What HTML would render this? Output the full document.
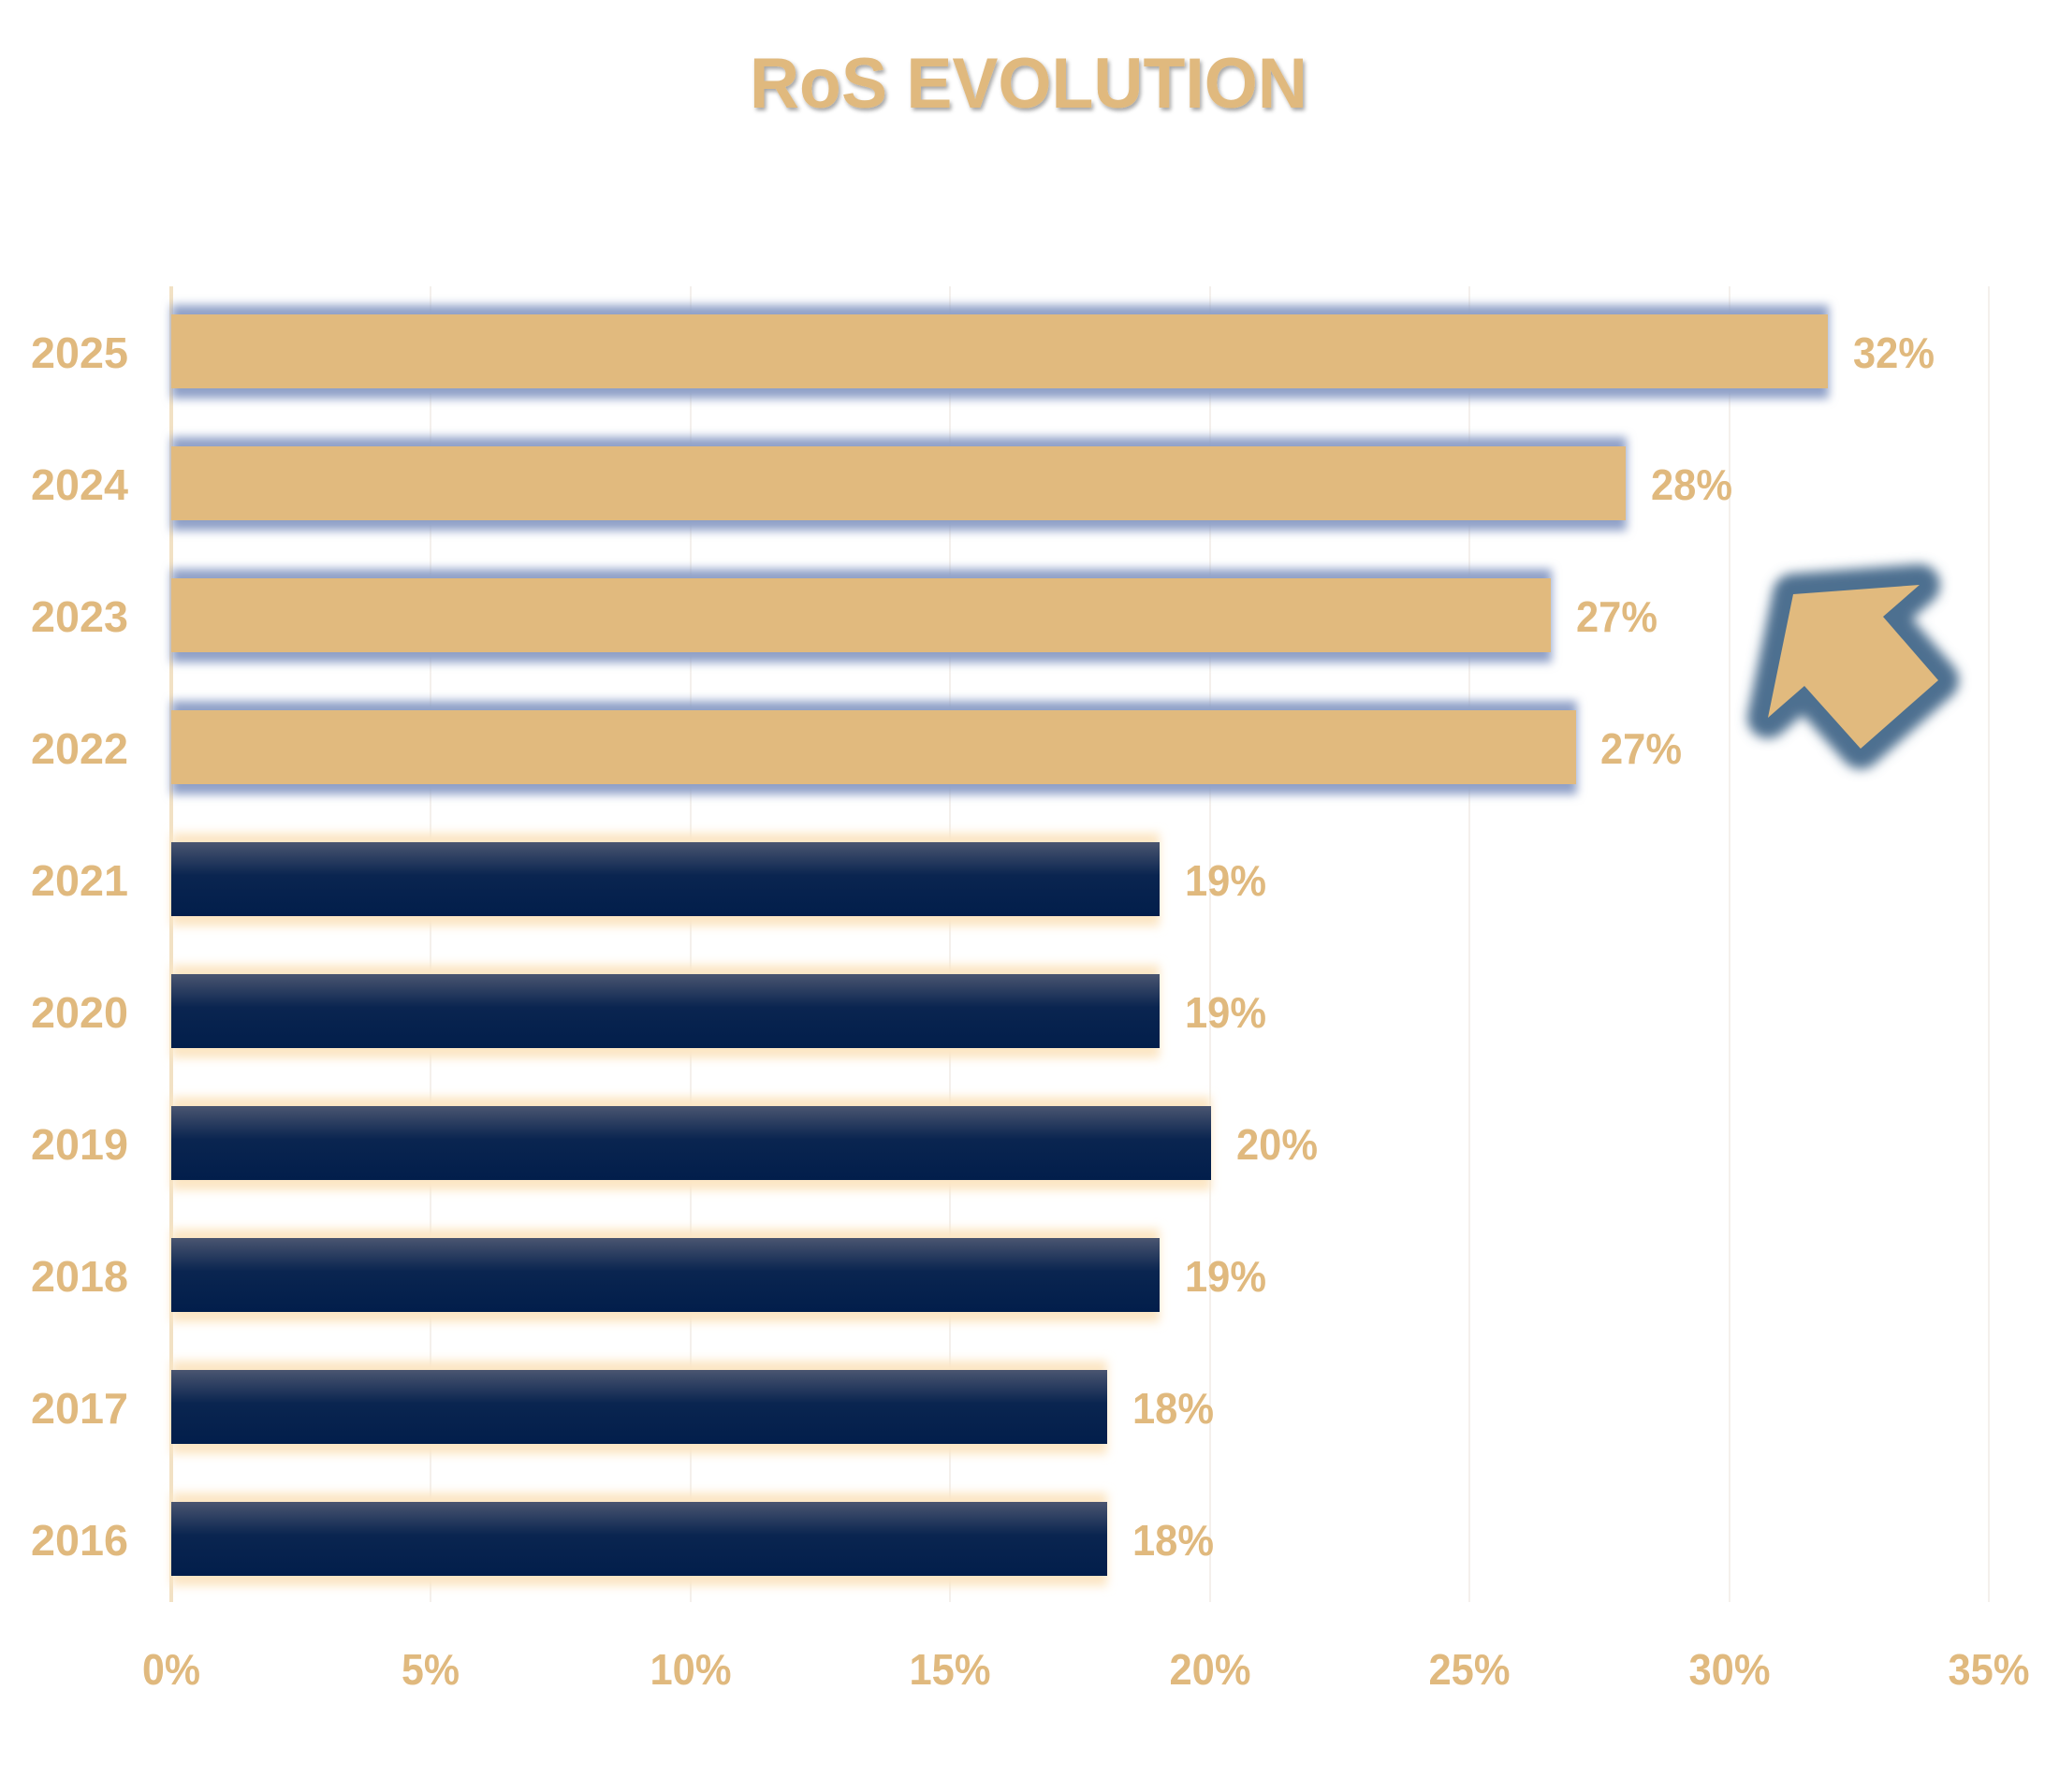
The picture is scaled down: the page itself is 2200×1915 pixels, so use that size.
<!DOCTYPE html>
<html><head><meta charset="utf-8"><style>
html,body{margin:0;padding:0;background:#fff;}
svg{display:block;}
text{font-family:"Liberation Sans Narrow","Liberation Sans",sans-serif;font-weight:bold;fill:#E0B97E;}
</style></head><body>
<svg width="2200" height="1915" viewBox="0 0 2200 1915" xmlns="http://www.w3.org/2000/svg">
<defs>
<filter id="gb" x="-5%" y="-40%" width="110%" height="180%"><feGaussianBlur stdDeviation="5"/></filter>
<filter id="ab" x="-30%" y="-30%" width="160%" height="160%"><feGaussianBlur stdDeviation="6"/></filter>
<filter id="ts" x="-5%" y="-20%" width="110%" height="150%"><feDropShadow dx="2" dy="3" stdDeviation="2" flood-color="#000" flood-opacity="0.35"/></filter>
<linearGradient id="nv" x1="0" y1="0" x2="0" y2="1">
<stop offset="0" stop-color="#4a5570"/><stop offset="0.45" stop-color="#0a2550"/><stop offset="1" stop-color="#021E4B"/>
</linearGradient>
</defs>
<text x="1099" y="115" font-size="76" text-anchor="middle" textLength="596" lengthAdjust="spacingAndGlyphs" filter="url(#ts)" style="font-family:'Liberation Sans',sans-serif">RoS EVOLUTION</text>
<g stroke="#f4f0ec" stroke-width="2">
<line x1="460" y1="306" x2="460" y2="1712"/><line x1="738" y1="306" x2="738" y2="1712"/>
<line x1="1015" y1="306" x2="1015" y2="1712"/><line x1="1293" y1="306" x2="1293" y2="1712"/>
<line x1="1570" y1="306" x2="1570" y2="1712"/><line x1="1848" y1="306" x2="1848" y2="1712"/>
<line x1="2125" y1="306" x2="2125" y2="1712"/>
</g>
<line x1="183" y1="306" x2="183" y2="1712" stroke="#F2E1C4" stroke-width="4"/>
<g id="bars">
<!-- gold bars -->
<rect x="183" y="326" width="1771" height="100" fill="#8FA0C8" filter="url(#gb)"/>
<rect x="183" y="336" width="1770" height="79" fill="#E1BA7E"/>
<rect x="183" y="467" width="1555" height="100" fill="#8FA0C8" filter="url(#gb)"/>
<rect x="183" y="477" width="1554" height="79" fill="#E1BA7E"/>
<rect x="183" y="608" width="1475" height="100" fill="#8FA0C8" filter="url(#gb)"/>
<rect x="183" y="618" width="1474" height="79" fill="#E1BA7E"/>
<rect x="183" y="749" width="1502" height="100" fill="#8FA0C8" filter="url(#gb)"/>
<rect x="183" y="759" width="1501" height="79" fill="#E1BA7E"/>
<!-- navy bars -->
<rect x="183" y="890" width="1056" height="100" fill="#FCE6C4" filter="url(#gb)"/>
<rect x="183" y="900" width="1056" height="79" fill="url(#nv)"/>
<rect x="183" y="1031" width="1056" height="100" fill="#FCE6C4" filter="url(#gb)"/>
<rect x="183" y="1041" width="1056" height="79" fill="url(#nv)"/>
<rect x="183" y="1172" width="1111" height="100" fill="#FCE6C4" filter="url(#gb)"/>
<rect x="183" y="1182" width="1111" height="79" fill="url(#nv)"/>
<rect x="183" y="1313" width="1056" height="100" fill="#FCE6C4" filter="url(#gb)"/>
<rect x="183" y="1323" width="1056" height="79" fill="url(#nv)"/>
<rect x="183" y="1454" width="1000" height="100" fill="#FCE6C4" filter="url(#gb)"/>
<rect x="183" y="1464" width="1000" height="79" fill="url(#nv)"/>
<rect x="183" y="1595" width="1000" height="100" fill="#FCE6C4" filter="url(#gb)"/>
<rect x="183" y="1605" width="1000" height="79" fill="url(#nv)"/>
</g>
<g font-size="46" text-anchor="end">
<text x="137" y="393" textLength="104" lengthAdjust="spacingAndGlyphs">2025</text>
<text x="137" y="534" textLength="104" lengthAdjust="spacingAndGlyphs">2024</text>
<text x="137" y="675" textLength="104" lengthAdjust="spacingAndGlyphs">2023</text>
<text x="137" y="816" textLength="104" lengthAdjust="spacingAndGlyphs">2022</text>
<text x="137" y="957" textLength="104" lengthAdjust="spacingAndGlyphs">2021</text>
<text x="137" y="1098" textLength="104" lengthAdjust="spacingAndGlyphs">2020</text>
<text x="137" y="1239" textLength="104" lengthAdjust="spacingAndGlyphs">2019</text>
<text x="137" y="1380" textLength="104" lengthAdjust="spacingAndGlyphs">2018</text>
<text x="137" y="1521" textLength="104" lengthAdjust="spacingAndGlyphs">2017</text>
<text x="137" y="1662" textLength="104" lengthAdjust="spacingAndGlyphs">2016</text>
</g>
<g font-size="46">
<text x="1980" y="393" textLength="87" lengthAdjust="spacingAndGlyphs">32%</text>
<text x="1764" y="534" textLength="87" lengthAdjust="spacingAndGlyphs">28%</text>
<text x="1684" y="675" textLength="87" lengthAdjust="spacingAndGlyphs">27%</text>
<text x="1710" y="816" textLength="87" lengthAdjust="spacingAndGlyphs">27%</text>
<text x="1266" y="957" textLength="87" lengthAdjust="spacingAndGlyphs">19%</text>
<text x="1266" y="1098" textLength="87" lengthAdjust="spacingAndGlyphs">19%</text>
<text x="1321" y="1239" textLength="87" lengthAdjust="spacingAndGlyphs">20%</text>
<text x="1266" y="1380" textLength="87" lengthAdjust="spacingAndGlyphs">19%</text>
<text x="1210" y="1521" textLength="87" lengthAdjust="spacingAndGlyphs">18%</text>
<text x="1210" y="1662" textLength="87" lengthAdjust="spacingAndGlyphs">18%</text>
</g>
<g font-size="46" text-anchor="middle">
<text x="183" y="1800" textLength="62" lengthAdjust="spacingAndGlyphs">0%</text>
<text x="460" y="1800" textLength="62" lengthAdjust="spacingAndGlyphs">5%</text>
<text x="738" y="1800" textLength="87" lengthAdjust="spacingAndGlyphs">10%</text>
<text x="1015" y="1800" textLength="87" lengthAdjust="spacingAndGlyphs">15%</text>
<text x="1293" y="1800" textLength="87" lengthAdjust="spacingAndGlyphs">20%</text>
<text x="1570" y="1800" textLength="87" lengthAdjust="spacingAndGlyphs">25%</text>
<text x="1848" y="1800" textLength="87" lengthAdjust="spacingAndGlyphs">30%</text>
<text x="2125" y="1800" textLength="87" lengthAdjust="spacingAndGlyphs">35%</text>
</g>
<polygon points="1916,635 2051,625 2012,659 2071,727 1988,800 1928,733 1889,767" fill="#4E7090" stroke="#4E7090" stroke-width="44" stroke-linejoin="round" filter="url(#ab)"/>
<polygon points="1916,635 2051,625 2012,659 2071,727 1988,800 1928,733 1889,767" fill="#E1BA7E"/>
</svg>
</body></html>
